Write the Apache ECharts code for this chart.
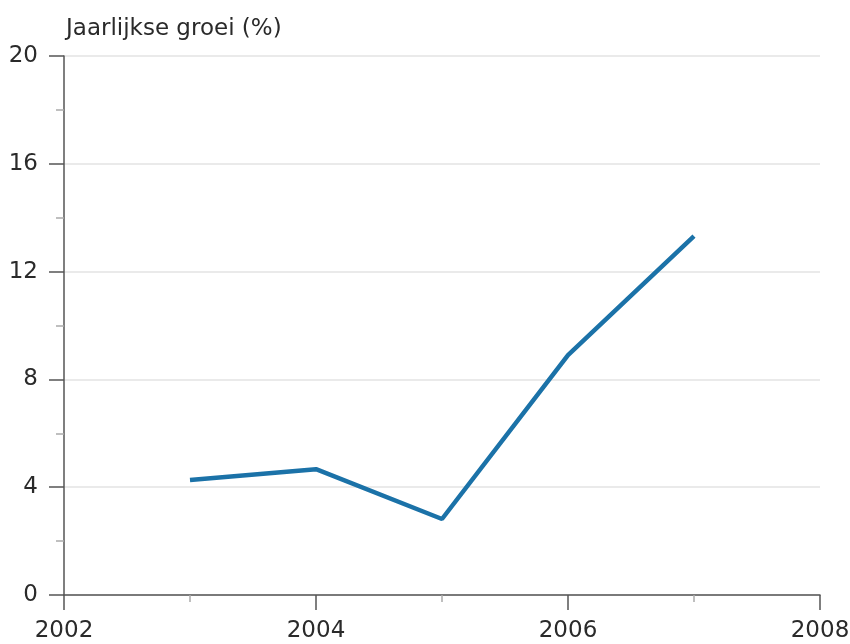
<!DOCTYPE html>
<html>
<head>
<meta charset="utf-8">
<script src="https://cdn.jsdelivr.net/npm/echarts@6/dist/echarts.min.js"></script>
<style>
  html, body { margin: 0; padding: 0; background: #fff; }
  #chart { width: 850px; height: 644px; }
</style>
</head>
<body>
<div id="chart"></div>
<script>
const years = [2003, 2004, 2005, 2006, 2007];
const growth = [4.27, 4.67, 2.82, 8.9, 13.32];
const yTitle = 'Jaarlijkse groei (%)';

const chart = echarts.init(document.getElementById('chart'));

const font = 'DejaVu Sans';
const axisColor = '#555';

chart.setOption({
  animation: false,
  title: {
    text: yTitle,
    left: 61,
    top: 13,
    textStyle: { fontFamily: font, fontSize: 23, fontWeight: 'normal', color: '#2a2a2a' },
  },
  grid: { left: 64, right: 30, top: 56, bottom: 49, outerBoundsMode: 'none' },
  xAxis: {
    type: 'value',
    min: 2002,
    max: 2008,
    interval: 2,
    axisLine: { lineStyle: { color: axisColor, width: 1.5 } },
    axisTick: { length: 15, lineStyle: { color: axisColor, width: 1.5 } },
    minorTick: { show: true, splitNumber: 2, length: 7, lineStyle: { color: '#aaa', width: 1.5 } },
    splitLine: { show: false },
    axisLabel: {
      margin: 25,
      fontFamily: font,
      fontSize: 23,
      color: '#2a2a2a',
      formatter: v => String(v),
    },
  },
  yAxis: {
    type: 'value',
    min: 0,
    max: 20,
    interval: 4,
    axisLine: { show: true, lineStyle: { color: axisColor, width: 1.5 } },
    axisTick: { show: true, length: 15, lineStyle: { color: axisColor, width: 1.5 } },
    minorTick: { show: true, splitNumber: 2, length: 8, lineStyle: { color: '#aaa', width: 1.5 } },
    splitLine: { show: true, lineStyle: { color: '#e3e3e3', width: 1.5 } },
    axisLabel: { margin: 26, fontFamily: font, fontSize: 23, color: '#2a2a2a' },
  },
  series: [
    {
      type: 'line',
      data: years.map((y, i) => [y, growth[i]]),
      symbol: 'none',
      lineStyle: { color: '#1b72a8', width: 4.5 },
    },
  ],
});
</script>
</body>
</html>
